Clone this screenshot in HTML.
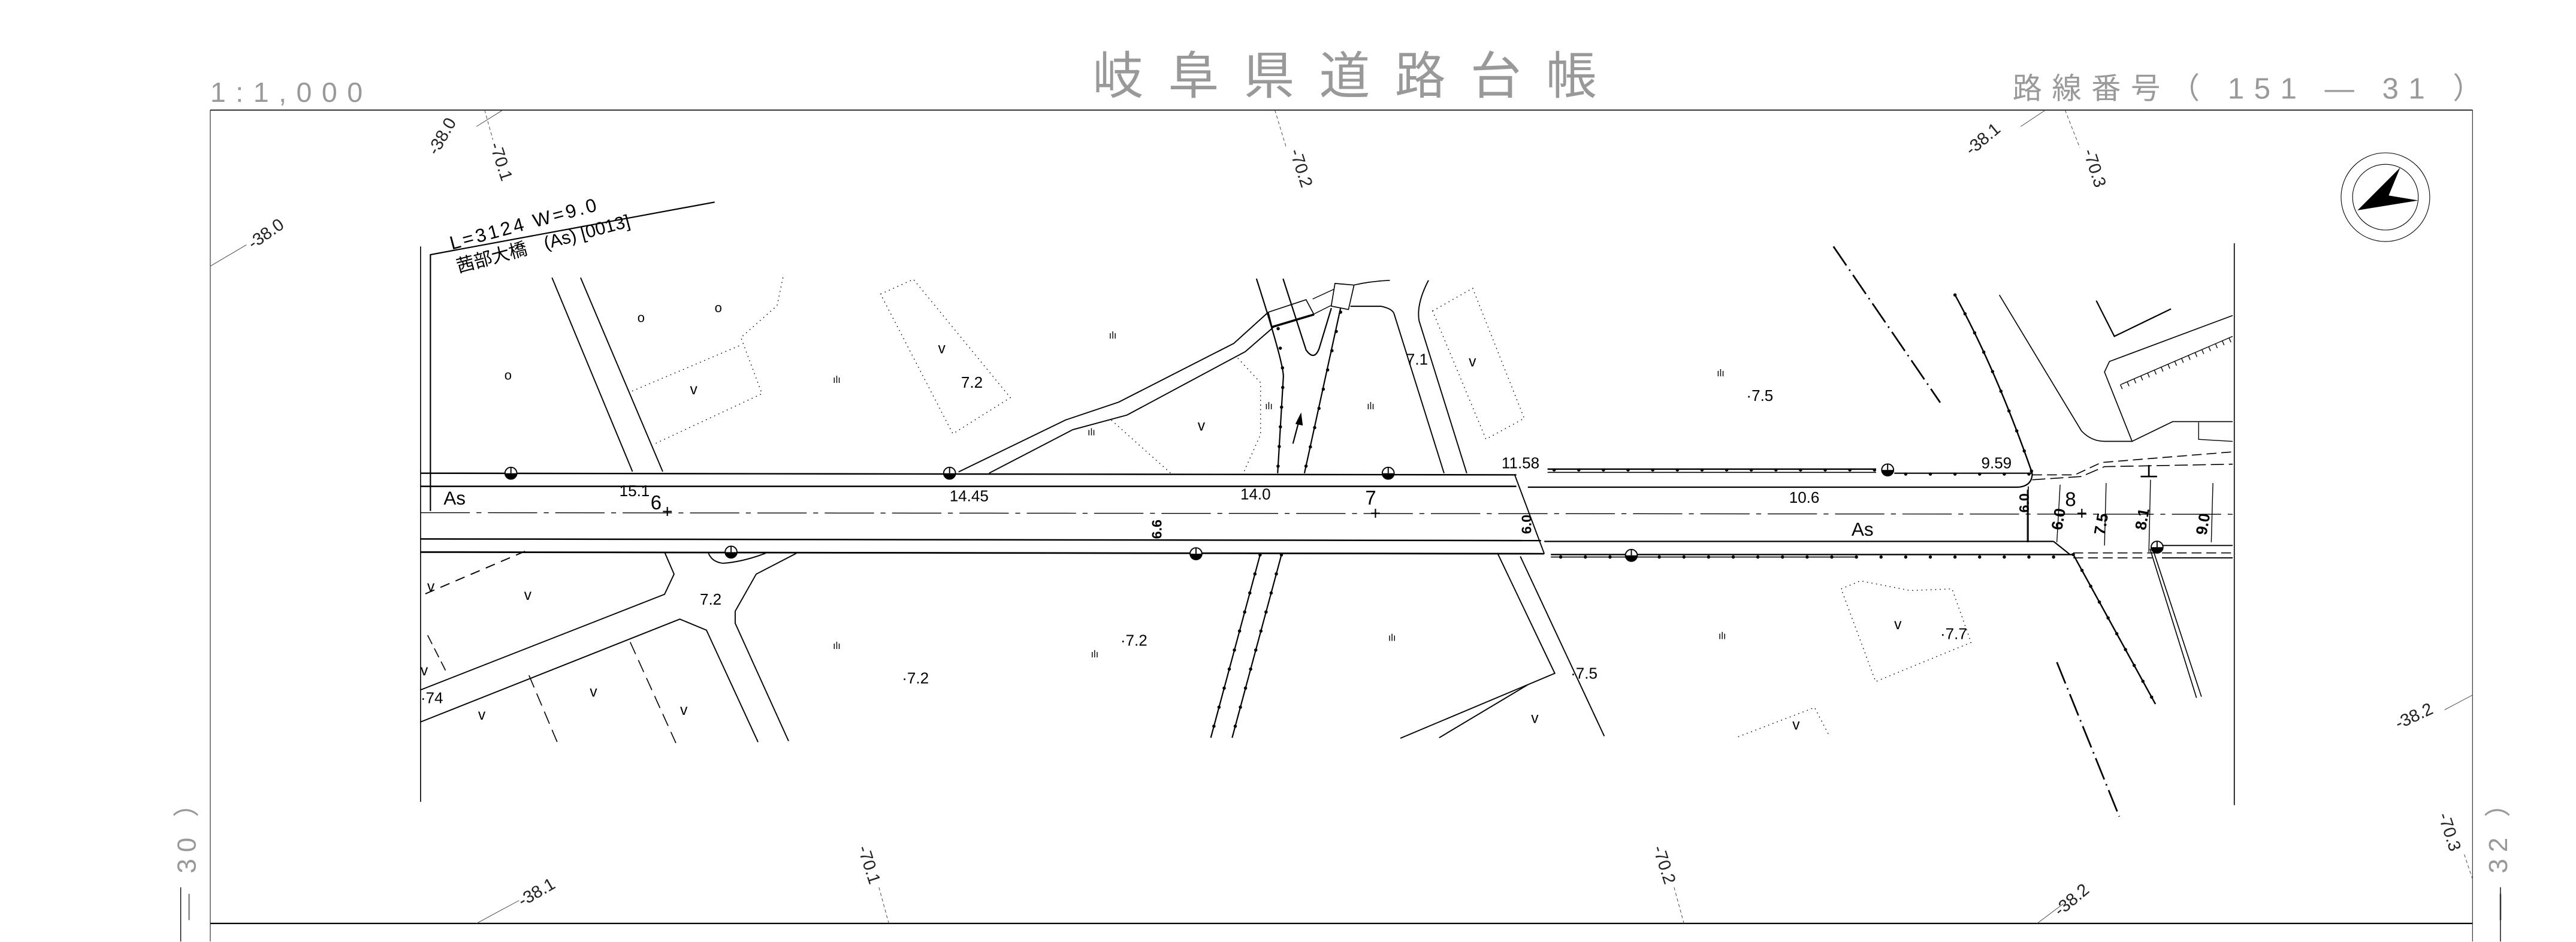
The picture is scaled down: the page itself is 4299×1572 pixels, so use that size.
<!DOCTYPE html>
<html><head><meta charset="utf-8">
<style>
html,body{margin:0;padding:0;background:#fff;}
svg{display:block;}
text{font-family:"Liberation Sans","Noto Sans CJK JP",sans-serif;}
</style></head>
<body>
<svg width="4299" height="1572" viewBox="0 0 1568 573.3" preserveAspectRatio="none" xmlns="http://www.w3.org/2000/svg">
<defs>
<g id="mh"><circle r="3.6" fill="#fff" stroke="#000" stroke-width="0.7"/><path d="M-3.6,0 A3.6,3.6 0 0 0 3.6,0 Z" fill="#000"/><line x1="0" y1="-3.6" x2="0" y2="0" stroke="#000" stroke-width="0.7"/></g>
</defs>
<rect width="1568" height="573.3" fill="#fff"/>

<!-- header -->
<g fill="#999">
<text x="128" y="62" font-size="17" letter-spacing="6">1:1,000</text>
<text x="665" y="57" font-size="31" letter-spacing="15">岐阜県道路台帳</text>
<text x="1225" y="60" font-size="18" letter-spacing="6">路線番号（ 151 ― 31 ）</text>
<text transform="translate(119,560) rotate(-90)" font-size="16" letter-spacing="4">― 30 ）</text>
<text transform="translate(1526,560) rotate(-90)" font-size="16" letter-spacing="4">― 32 ）</text>
</g>
<g stroke="#000" fill="none">
<line x1="128" y1="67" x2="1505" y2="67" stroke-width="0.6"/>
<line x1="128" y1="562" x2="1505" y2="562" stroke-width="0.8"/>
<line x1="128" y1="67" x2="128" y2="573" stroke-width="0.35"/>
<line x1="1505" y1="67" x2="1505" y2="573" stroke-width="0.35"/>
<line x1="110" y1="540" x2="110" y2="573" stroke-width="0.5"/>
<line x1="1522" y1="540" x2="1522" y2="573" stroke-width="0.5"/>
</g>

<!-- contour ticks -->
<g stroke="#444" stroke-width="0.35" fill="none">
<line x1="290" y1="77" x2="306" y2="67"/>
<line x1="295" y1="67" x2="300" y2="85" stroke-dasharray="2 1.5"/>
<line x1="776" y1="67" x2="783" y2="90" stroke-dasharray="2 1.5"/>
<line x1="1230" y1="77" x2="1245" y2="67"/>
<line x1="1257" y1="67" x2="1266" y2="90" stroke-dasharray="2 1.5"/>
<line x1="128" y1="162" x2="150" y2="149"/>
<line x1="1488" y1="432" x2="1505" y2="423"/>
<line x1="290" y1="562" x2="316" y2="548"/>
<line x1="535" y1="540" x2="541" y2="562" stroke-dasharray="2 1.5"/>
<line x1="1019" y1="540" x2="1025" y2="562" stroke-dasharray="2 1.5"/>
<line x1="1240" y1="562" x2="1256" y2="550"/>
<line x1="1500" y1="520" x2="1505" y2="535" stroke-dasharray="2 1.5"/>
</g>
<g fill="#222" font-size="10.5">
<text transform="translate(266,95) rotate(-60)">-38.0</text>
<text transform="translate(298,88) rotate(72)">-70.1</text>
<text transform="translate(785,92) rotate(72)">-70.2</text>
<text transform="translate(1200,95) rotate(-40)">-38.1</text>
<text transform="translate(1268,92) rotate(72)">-70.3</text>
<text transform="translate(154,152) rotate(-35)">-38.0</text>
<text transform="translate(1460,444) rotate(-25)">-38.2</text>
<text transform="translate(318,552) rotate(-30)">-38.1</text>
<text transform="translate(522,516) rotate(72)">-70.1</text>
<text transform="translate(1006,516) rotate(72)">-70.2</text>
<text transform="translate(1254,558) rotate(-40)">-38.2</text>
<text transform="translate(1484,496) rotate(72)">-70.3</text>
</g>

<!-- compass -->
<g stroke="#000" stroke-width="0.4" fill="none">
<circle cx="1452" cy="120" r="27"/>
<circle cx="1452" cy="120" r="20"/>
</g>
<polygon points="1435,128 1461,102 1454,119 1472,122" fill="#000"/>

<!-- drawing frame -->
<g stroke="#000" stroke-width="0.6" fill="none">
<line x1="256" y1="150" x2="256" y2="488"/>
<line x1="1360" y1="148" x2="1360" y2="490"/>
<polyline points="262,311 262,155 435,123" stroke-width="0.8"/>
</g>
<g fill="#000" font-size="11.5">
<text transform="translate(275,152) rotate(-15)" letter-spacing="1.5">L=3124 W=9.0</text>
<text transform="translate(279,166) rotate(-15)" font-size="11">茜部大橋　(As) [0013]</text>
</g>

<!-- main road -->
<g stroke="#000" fill="none">
<line x1="256" y1="288" x2="923" y2="289" stroke-width="0.9"/>
<line x1="256" y1="296" x2="923" y2="296" stroke-width="0.9"/>
<line x1="256" y1="328" x2="938" y2="329" stroke-width="0.9"/>
<line x1="256" y1="336" x2="940" y2="337" stroke-width="1"/>
<line x1="922" y1="289" x2="940" y2="337" stroke-width="0.7"/>
<line x1="256" y1="312" x2="1360" y2="313" stroke-width="0.5" stroke-dasharray="30 4 3 4"/>
<path d="M930,296.5 L1228,296.5 Q1237,296 1237,288" stroke-width="0.8"/>
<line x1="940" y1="329.5" x2="1250" y2="329.5" stroke-width="0.8"/>
<line x1="1250" y1="329.5" x2="1260" y2="337.5" stroke-width="0.8"/>
<line x1="1234.6" y1="296" x2="1234.6" y2="330" stroke-width="0.6"/>
<line x1="942" y1="285.5" x2="1142" y2="285.5" stroke-width="0.9"/>
<line x1="942" y1="287.5" x2="1142" y2="287.5" stroke-width="0.6"/>
<line x1="1153" y1="288" x2="1237" y2="288" stroke-width="0.8"/>
<line x1="944" y1="337.5" x2="1262" y2="337.5" stroke-width="0.9"/>
<line x1="944" y1="339" x2="1130" y2="339" stroke-width="0.6"/>
<g stroke-width="2" stroke-linecap="round" stroke-dasharray="0 15">
<line x1="946" y1="286" x2="1142" y2="286"/>
<line x1="1160" y1="288.5" x2="1237" y2="288.5"/>
<line x1="950" y1="339" x2="1260" y2="339"/>
</g>
<path d="M1237,289 L1263,289 L1279,281.5 L1359,275" stroke-width="0.6" stroke-dasharray="6 3"/>
<path d="M1237,292 L1267,290 L1281,284 L1359,282.5" stroke-width="0.6" stroke-dasharray="8 3"/>
<line x1="1262" y1="336.5" x2="1359" y2="336.5" stroke-width="0.6" stroke-dasharray="6 3"/>
<line x1="1262" y1="339.5" x2="1310" y2="339.5" stroke-width="0.6" stroke-dasharray="6 3"/>
<line x1="1316" y1="332" x2="1359" y2="332" stroke-width="0.7"/>
<line x1="1316" y1="339.5" x2="1359" y2="339.5" stroke-width="0.7"/>
<path d="M1190,179.5 Q1215,225 1237,288" stroke-width="0.9"/>
<path d="M1190,179.5 Q1215,225 1237,288" stroke-width="2" stroke-linecap="round" stroke-dasharray="0 13"/>
<path d="M1217,179.5 L1267,262.3 Q1273,268.6 1281,268.6 L1298,268.6" stroke-width="0.6"/>
<path d="M1262,337.5 L1312,428.5" stroke-width="0.9"/>
<path d="M1262,337.5 L1312,428.5" stroke-width="2" stroke-linecap="round" stroke-dasharray="0 11"/>
<path d="M1308.7,334 L1337,424.7 M1311,336 L1340,424" stroke-width="0.6"/>
<polyline points="1276,183 1287,204.7 1321.5,188" stroke-width="0.8"/>
<polyline points="1359,192 1284,220 1281,226.4 1297.8,268.6 1322.5,256.6 1359,256.6" stroke-width="0.6"/>
<line x1="1291" y1="234" x2="1359" y2="204.7" stroke-width="0.5"/>
<line x1="1291" y1="234" x2="1359" y2="204.7" stroke-width="3" stroke-dasharray="0.5 4" transform="translate(0,1.5)"/>
<polyline points="1338.3,257 1338.3,267.4 1359,268.6" stroke-width="0.5"/>
<line x1="1116" y1="150" x2="1181" y2="245" stroke-width="1" stroke-dasharray="14 3 1 3"/>
<line x1="1252" y1="403" x2="1290" y2="497" stroke-width="1" stroke-dasharray="14 3 1 3"/>
<g stroke-width="0.5">
<line x1="1254" y1="295" x2="1252" y2="330"/>
<line x1="1282" y1="294" x2="1281" y2="332"/>
<line x1="1309" y1="292" x2="1308" y2="336"/>
<line x1="1347" y1="294" x2="1346" y2="330"/>
<line x1="1234" y1="298" x2="1234" y2="330"/>
</g>
<path d="M1308,283 L1308,290 M1303,290 L1313,290" stroke-width="1"/>

<polyline points="911.5,336.6 946.4,409.8 852.4,449.3" stroke-width="0.7"/>
<line x1="925.4" y1="338.6" x2="976.5" y2="448" stroke-width="0.7"/>
<polyline points="876,449 930,416.7" stroke-width="0.7"/>

<line x1="336" y1="169" x2="385" y2="287" stroke-width="0.7"/>
<line x1="353.4" y1="169" x2="403.4" y2="287" stroke-width="0.7"/>

<polyline points="583.5,287.2 648.6,255.6 681,244.7 751,209 772,190" stroke-width="0.7"/>
<polyline points="602,288 653,261.5 686,252.6 758,214 775.3,199" stroke-width="0.7"/>
<polygon points="772,190 795,182.4 799.8,191.4 774.3,199" stroke-width="0.6"/>
<line x1="774.3" y1="199" x2="799.8" y2="191.4" stroke-width="1.3"/>
<polygon points="812.6,172.5 824.2,173.5 820.8,188.4 810.3,186.3" stroke-width="0.6"/>
<line x1="799" y1="182" x2="812" y2="176" stroke-width="0.5"/>
<line x1="800" y1="191" x2="810" y2="186" stroke-width="0.5"/>
<path d="M824,173.5 Q835,171 846,170.6" stroke-width="0.6"/>
<path d="M822,186.4 L840.6,186.4 Q848,188 848.7,191.4 L879,288" stroke-width="0.7"/>
<path d="M869.5,170.6 Q862,185 863.8,195.3 L892.8,288" stroke-width="0.7"/>
<path d="M764.8,169.6 Q781,220 781.2,229 L777.7,288" stroke-width="0.8"/>
<path d="M781,169.6 L795,213 Q800,220 803,212 L810.4,187.5" stroke-width="0.8"/>
<line x1="816" y1="187.5" x2="794" y2="288" stroke-width="0.8"/>
<line x1="767" y1="337.7" x2="737" y2="449" stroke-width="0.8"/>
<line x1="780" y1="337.7" x2="750" y2="449" stroke-width="0.8"/>
<g stroke-width="2" stroke-linecap="round" stroke-dasharray="0 12">
<path d="M778,200 L781.2,229 L777.7,288"/>
<line x1="816" y1="190" x2="794" y2="288"/>
<line x1="767" y1="337.7" x2="737" y2="449"/>
<line x1="780" y1="337.7" x2="750" y2="449"/>
</g>
<line x1="787" y1="270" x2="791" y2="255" stroke-width="0.8"/>
<polygon points="792,251 788.5,258 793,259" fill="#000" stroke="none"/>

<line x1="319.6" y1="335.5" x2="256.8" y2="362.3" stroke-width="0.7" stroke-dasharray="6 4"/>
<polyline points="404.5,336 410.3,349.4 404.5,361.7 255.7,420" stroke-width="0.7"/>
<polyline points="255.7,439.5 413.8,376.8 430,383.5 461.4,451.6" stroke-width="0.7"/>
<polyline points="484.8,336.7 460.3,349.4 447.5,372 447.5,379.3 480,451" stroke-width="0.7"/>
<path d="M431,336 Q433,342 440,342.8 Q452,342 466,336.7" stroke-width="0.7"/>
<line x1="383.6" y1="390.8" x2="411.4" y2="452.2" stroke-width="0.6" stroke-dasharray="8 4"/>
<line x1="322" y1="411" x2="339.4" y2="452.2" stroke-width="0.6" stroke-dasharray="8 4"/>
<line x1="260.3" y1="386.6" x2="272" y2="409.6" stroke-width="0.6" stroke-dasharray="6 3"/>
</g>

<g stroke="#000" stroke-width="0.5" fill="none" stroke-dasharray="0.6 2.2">
<polyline points="476.6,168.9 473,186 451,205.4 463.8,239.6 397.5,270.6"/>
<polyline points="384.8,238 451,210"/>
<polygon points="536,179 556,170 615,242 580,264"/>
<polyline points="753.5,218 767.3,232.9 767.3,264.4 756.8,288"/>
<polyline points="676.5,255.7 712.6,288"/>
<polygon points="872,189.3 896.4,175.4 927.8,254.6 904.5,267.3"/>
<polygon points="1120.7,358.4 1132.4,353.5 1162.6,359.4 1188.2,358.4 1199.8,391 1141.7,414.8"/>
<polyline points="1058,448.4 1104.5,430.6 1113.8,448.4"/>
</g>

<use href="#mh" x="311" y="288"/>
<use href="#mh" x="578" y="288"/>
<use href="#mh" x="845" y="288"/>
<use href="#mh" x="1149" y="286"/>
<use href="#mh" x="445" y="336"/>
<use href="#mh" x="728" y="337"/>
<use href="#mh" x="993" y="338"/>
<use href="#mh" x="1313" y="333"/>

<g fill="#000" font-size="9.5">
<text x="270" y="307" font-size="11.5">As</text>
<text x="1127" y="326" font-size="11.5">As</text>
<text x="377" y="302">15.1</text>
<text x="396" y="310" font-size="12">6</text>
<text x="403" y="315" font-size="11">+</text>
<text x="578" y="305">14.45</text>
<text x="755" y="304">14.0</text>
<text x="831" y="307" font-size="12">7</text>
<text x="834" y="316" font-size="11">+</text>
<text x="914" y="285">11.58</text>
<text x="1089" y="306">10.6</text>
<text x="1206" y="285">9.59</text>
<text x="1257" y="308" font-size="12">8</text>
<text x="1264" y="316" font-size="11">+</text>
<text transform="translate(707,328) rotate(-90)" font-size="8.5" font-weight="bold">6.6</text>
<text transform="translate(932,325) rotate(-90)" font-size="8.5" font-weight="bold">6.0</text>
<text transform="translate(1235,312) rotate(-90)" font-size="8.5" font-weight="bold">6.0</text>
<text transform="translate(1255,323) rotate(-80)" font-size="9.5" font-weight="bold">6.0</text>
<text transform="translate(1281,326) rotate(-80)" font-size="9.5" font-weight="bold">7.5</text>
<text transform="translate(1306,323) rotate(-80)" font-size="9.5" font-weight="bold">8.1</text>
<text transform="translate(1343,326) rotate(-80)" font-size="9.5" font-weight="bold">9.0</text>
<text x="585" y="236">7.2</text>
<text x="856" y="222">7.1</text>
<text x="1063" y="244">·7.5</text>
<text x="426" y="368">7.2</text>
<text x="682" y="393">·7.2</text>
<text x="549" y="416">·7.2</text>
<text x="956" y="413">·7.5</text>
<text x="1181" y="389">·7.7</text>
<text x="256" y="428">·74</text>
</g>
<g fill="#000" font-size="8">
<text x="388" y="196">o</text><text x="435" y="190">o</text><text x="307" y="231">o</text>
</g>
<g fill="#000" font-size="9">
<text x="420" y="240">v</text><text x="571" y="215">v</text><text x="894" y="223">v</text>
<text x="729" y="262">v</text><text x="319" y="365">v</text><text x="260" y="360">v</text>
<text x="1153" y="383">v</text><text x="932" y="440">v</text><text x="1091" y="444">v</text>
<text x="291" y="438">v</text><text x="359" y="424">v</text><text x="414" y="435">v</text>
<text x="256" y="411">v</text>
</g>
<g fill="#000" font-size="6">
<text x="507" y="233">ılı</text><text x="675" y="206">ılı</text><text x="770" y="249">ılı</text>
<text x="832" y="249">ılı</text><text x="662" y="265">ılı</text><text x="1045" y="229">ılı</text>
<text x="845" y="390">ılı</text><text x="1046" y="389">ılı</text><text x="507" y="395">ılı</text>
<text x="664" y="400">ılı</text>
</g>
</svg>
</body></html>
